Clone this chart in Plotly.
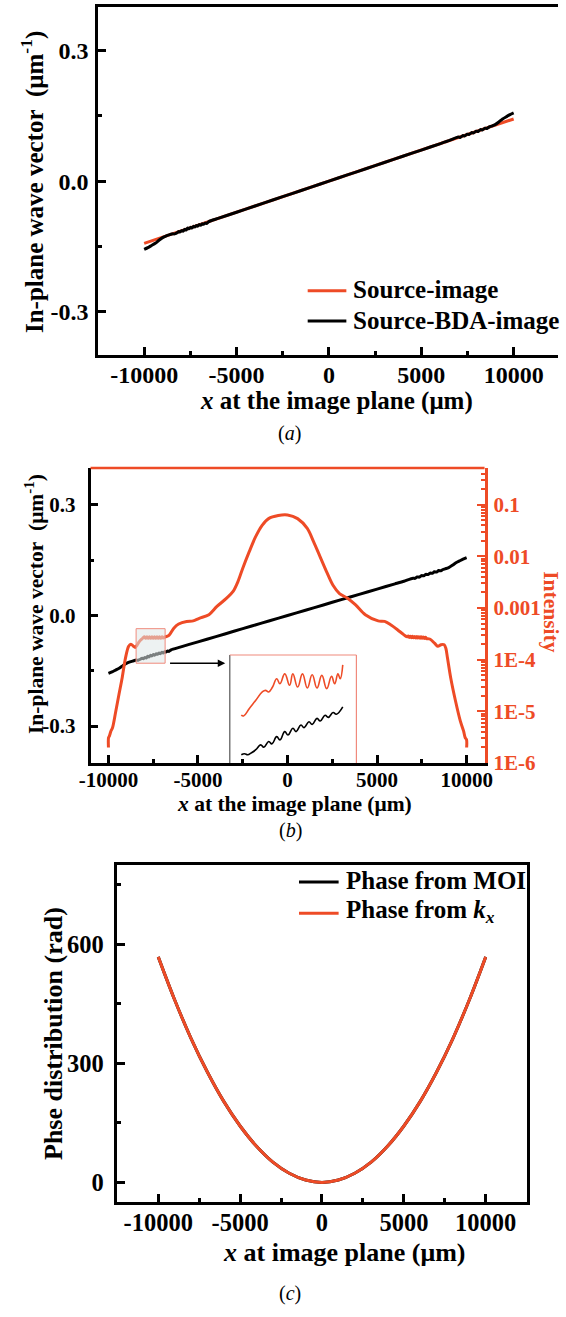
import numpy as np
import plotly.graph_objects as go

W, H = 566, 1317
RED = '#EE4B26'
SALMON = '#F08A7C'
FONT = 'Liberation Serif'

# ---------------- data ----------------
# (a) in-plane wave vector (um^-1) along the image plane
src_x = [-10000, 0, 10000]
src_k = [-0.143, 0.0, 0.143]

bda_x = [-10000, -9800, -9600, -9400, -9200, -9000, -8800, -8650,
         -8500, -8437, -8373, -8310, -8214, -8119, -8056, -7960, -7897, -7802,
         -7738, -7643, -7579, -7484, -7421, -7325, -7262, -7167, -7103, -7008,
         -6944, -6849, -6786, -6690, -6627, -6500,
         -6000, -5000, -4000, -3000, -2000, -1000, 0, 1000, 2000, 3000, 4000, 5000,
         6000, 6500, 7000, 7120, 7240, 7360, 7480, 7600, 7720, 7840, 7960, 8080,
         8200, 8320, 8440, 8560, 8680, 8800, 9000, 9200, 9400, 9600, 9800, 10000]
bda_k = [-0.157, -0.153, -0.148, -0.143, -0.136, -0.130, -0.126, -0.1237,
         -0.1216, -0.1210, -0.1216, -0.1206, -0.1186, -0.1157, -0.1171, -0.1137, -0.1151, -0.1108,
         -0.1127, -0.1078, -0.1098, -0.1058, -0.1078, -0.1039, -0.1054, -0.1019, -0.1035, -0.0999,
         -0.1015, -0.0980, -0.0993, -0.0964, -0.0974, -0.0930,
         -0.0858, -0.0715, -0.0572, -0.0429, -0.0286, -0.0143, 0.0, 0.0143, 0.0286, 0.0429,
         0.0572, 0.0715, 0.0858, 0.0930, 0.1013, 0.1006, 0.1047, 0.1040, 0.1081, 0.1075,
         0.1116, 0.1109, 0.1150, 0.1143, 0.1185, 0.1178, 0.1219, 0.1212, 0.1247, 0.1265,
         0.1300, 0.1360, 0.1430, 0.1480, 0.1530, 0.1570]

# (b) intensity, stored as log10(I)
int_x = [-10000, -9995, -9950, -9860, -9773, -9590, -9411, -9233, -9050, -8872,
         -8747, -8601, -8510, -8400, -8300, -8200, -8100, -8060, -7990, -7920,
         -7850, -7780, -7710, -7640, -7570, -7500, -7430, -7360, -7290, -7220,
         -7150, -7080, -7010, -6940, -6870, -6750, -6620, -6350, -6080, -5632,
         -5270, -4932, -4390, -3942, -3402, -3040, -2770, -2500, -2138, -1782,
         -1420, -1058, -518, 0, 562, 1102, 1458, 1820, 2182, 2538,
         2900, 3348, 3801, 4341, 5059, 5421, 5778, 6139, 6501, 6680,
         6740, 6800, 6860, 6920, 6980, 7040, 7100, 7160, 7220, 7280,
         7340, 7400, 7460, 7520, 7580, 7640, 7700, 7760, 7937, 8207,
         8391, 8569, 8747, 8839, 8931, 9109, 9379, 9649, 9827, 9919,
         9995, 10000]
int_logI = [-5.70, -5.51, -5.48, -5.38, -5.32, -5.00, -4.67, -4.35, -3.97, -3.74,
            -3.70, -3.74, -3.763, -3.72, -3.66, -3.62, -3.59, -3.575, -3.555, -3.585,
            -3.555, -3.585, -3.555, -3.585, -3.555, -3.585, -3.555, -3.585, -3.555, -3.585,
            -3.555, -3.585, -3.555, -3.580, -3.565, -3.55, -3.53, -3.39, -3.31, -3.26,
            -3.25, -3.20, -3.13, -2.97, -2.81, -2.68, -2.49, -2.23, -1.91, -1.62,
            -1.40, -1.27, -1.21, -1.20, -1.27, -1.46, -1.72, -2.01, -2.30, -2.56,
            -2.72, -2.81, -2.94, -3.13, -3.25, -3.26, -3.33, -3.42, -3.52, -3.557,
            -3.540, -3.570, -3.545, -3.575, -3.548, -3.578, -3.550, -3.580, -3.552, -3.582,
            -3.555, -3.585, -3.558, -3.587, -3.560, -3.590, -3.565, -3.592, -3.60, -3.68,
            -3.74, -3.71, -3.71, -3.78, -3.97, -4.35, -4.80, -5.19, -5.38, -5.51,
            -5.55, -5.70]

# magnified view of the left plateau (inset of panel b)
det_x_k = [-8500, -8437, -8373, -8310, -8214, -8119, -8056, -7960, -7897, -7802,
           -7738, -7643, -7579, -7484, -7421, -7325, -7262, -7167, -7103, -7008,
           -6944, -6849, -6786, -6690, -6627, -6500]
det_k = [-0.1216, -0.1210, -0.1216, -0.1206, -0.1186, -0.1157, -0.1171, -0.1137, -0.1151, -0.1108,
         -0.1127, -0.1078, -0.1098, -0.1058, -0.1078, -0.1039, -0.1054, -0.1019, -0.1035, -0.0999,
         -0.1015, -0.0980, -0.0993, -0.0964, -0.0974, -0.0930]
det_x_i = [-8500, -8456, -8341, -8214, -8087, -8024, -7960, -7884, -7802, -7738,
           -7643, -7548, -7484, -7389, -7294, -7198, -7103, -7008, -6913, -6817,
           -6722, -6659, -6595, -6551, -6500]
det_logI = [-3.767, -3.773, -3.725, -3.673, -3.620, -3.610, -3.620, -3.589, -3.536, -3.568,
            -3.505, -3.578, -3.505, -3.589, -3.505, -3.595, -3.511, -3.595, -3.515, -3.599,
            -3.521, -3.568, -3.505, -3.536, -3.448]

# (c) phase distribution (rad)
phase_x = [-10000, -9000, -8000, -7000, -6000, -5000, -4000, -3000, -2000, -1000, 0,
           1000, 2000, 3000, 4000, 5000, 6000, 7000, 8000, 9000, 10000]
phase_moi = [568, 460, 363, 278, 204, 142, 91, 51, 23, 6, 0,
             6, 23, 51, 91, 142, 204, 278, 363, 460, 568]
phase_kx = [568, 460, 363, 278, 204, 142, 91, 51, 23, 6, 0,
            6, 23, 51, 91, 142, 204, 278, 363, 460, 568]

x_ticks = [-10000, -5000, 0, 5000, 10000]
x_ticktext = ['-10000', '-5000', '0', '5000', '10000']
k_ticks = [-0.3, 0.0, 0.3]
k_ticktext = ['-0.3', '0.0', '0.3']
i_ticks = [1e-6, 1e-5, 1e-4, 1e-3, 1e-2, 1e-1]
i_ticktext = ['1E-6', '1E-5', '1E-4', '0.001', '0.01', '0.1']
ph_ticks = [0, 300, 600]
ph_ticktext = ['0', '300', '600']

int_I = list(10 ** np.array(int_logI))
det_I = list(10 ** np.array(det_logI))


# ---------------- helpers ----------------
def px(x):
    return x / W


def py(y):
    return 1 - y / H


def bold(size, color='black'):
    return dict(family=FONT, size=size, color=color, weight='bold')


def minor_ticks(vals, color='black', width=2.5):
    return dict(tickvals=vals, ticks='inside', ticklen=4, tickwidth=width, tickcolor=color)


def lin_axis(**kw):
    base = dict(showline=True, linecolor='black', linewidth=2.5, ticks='inside',
                ticklen=8, tickwidth=2.5, tickcolor='black', showgrid=False,
                zeroline=False, mirror=False)
    base.update(kw)
    return base


fig = go.Figure()

# panel (a)
fig.add_trace(go.Scatter(x=src_x, y=src_k, mode='lines', line=dict(color=RED, width=3),
                         xaxis='x', yaxis='y', name='Source-image'))
fig.add_trace(go.Scatter(x=bda_x, y=bda_k, mode='lines',
                         line=dict(color='black', width=3, shape='spline', smoothing=0.6),
                         xaxis='x', yaxis='y', name='Source-BDA-image'))

# panel (b)
fig.add_trace(go.Scatter(x=bda_x, y=bda_k, mode='lines',
                         line=dict(color='black', width=3, shape='spline', smoothing=0.6),
                         xaxis='x2', yaxis='y2', name='k'))
fig.add_trace(go.Scatter(x=int_x, y=int_I, mode='lines',
                         line=dict(color=RED, width=3, shape='spline', smoothing=0.9),
                         xaxis='x2', yaxis='y3', name='Intensity'))

# inset of panel (b)
fig.add_trace(go.Scatter(x=det_x_i, y=det_I, mode='lines',
                         line=dict(color=RED, width=1.6, shape='spline', smoothing=1.3),
                         xaxis='x4', yaxis='y6', name='I detail'))
fig.add_trace(go.Scatter(x=det_x_k, y=det_k, mode='lines',
                         line=dict(color='black', width=1.6, shape='spline', smoothing=1.3),
                         xaxis='x4', yaxis='y5', name='k detail'))

# panel (c)
fig.add_trace(go.Scatter(x=phase_x, y=phase_moi, mode='lines', line=dict(color='black', width=3, shape='spline'),
                         xaxis='x3', yaxis='y4', name='Phase from MOI'))
fig.add_trace(go.Scatter(x=phase_x, y=phase_kx, mode='lines', line=dict(color=RED, width=3, shape='spline'),
                         xaxis='x3', yaxis='y4', name='Phase from kx'))

fig.update_layout(
    width=W, height=H, margin=dict(l=0, r=0, t=0, b=0),
    paper_bgcolor='white', plot_bgcolor='rgba(0,0,0,0)', showlegend=False,
    # (a)
    xaxis=lin_axis(domain=[px(90), 1.0], range=[-12500, 12400], anchor='y', mirror=True,
                   tickvals=x_ticks, ticktext=x_ticktext, tickfont=bold(24), ticklabelstandoff=-4,
                   minor=minor_ticks([-7500, -2500, 2500, 7500])),
    yaxis=lin_axis(domain=[py(358.3), py(7.3)], range=[-0.4, 0.4], anchor='x',
                   tickvals=k_ticks, ticktext=k_ticktext, tickfont=bold(24), ticklabelstandoff=2,
                   minor=minor_ticks([-0.15, 0.15])),
    # (b)
    xaxis2=lin_axis(domain=[px(82.3), px(490)], range=[-11000, 11000], anchor='y2',
                    tickvals=x_ticks, ticktext=x_ticktext, tickfont=bold(21), ticklabelstandoff=-4,
                    minor=minor_ticks([-7500, -2500, 2500, 7500])),
    yaxis2=lin_axis(domain=[py(770), py(472.3)], range=[-0.4, 0.4], anchor='x2',
                    tickvals=k_ticks, ticktext=k_ticktext, tickfont=bold(21), ticklabelstandoff=8,
                    minor=minor_ticks([-0.15, 0.15])),
    yaxis3=dict(type='log', range=[-6, -0.29], overlaying='y2', anchor='x2', side='right',
                showline=True, linecolor=RED, linewidth=2.5, ticks='inside', ticklen=8, tickwidth=2,
                tickcolor=RED, showgrid=False, zeroline=False,
                tickvals=i_ticks, ticktext=i_ticktext, tickfont=bold(21, RED), ticklabelstandoff=2,
                minor=minor_ticks([m * 10.0 ** e for e in range(-6, 0) for m in range(2, 10)], RED, 1.5)),
    # (c)
    xaxis3=lin_axis(domain=[px(110), px(533.6)], range=[-12500, 12500], anchor='y4', mirror=True,
                    tickvals=x_ticks, ticktext=x_ticktext, tickfont=bold(24.5), ticklabelstandoff=-3,
                    minor=minor_ticks([-7500, -2500, 2500, 7500])),
    yaxis4=lin_axis(domain=[py(1213.3), py(872.7)], range=[-50, 800], anchor='x3', mirror=True,
                    tickvals=ph_ticks, ticktext=ph_ticktext, tickfont=bold(24.5), ticklabelstandoff=6,
                    minor=minor_ticks([150, 450, 750])),
    # inset
    xaxis4=dict(domain=[px(226.4), px(357.4)], range=[-8727, -6231], anchor='y5', visible=False),
    yaxis5=dict(domain=[py(770), py(661)], range=[-0.1265, -0.0621], anchor='x4', visible=False),
    yaxis6=dict(type='log', range=[-4.072, -3.385], overlaying='y5', anchor='x4', visible=False),
)

shapes = []
# red top border of panel (b)
shapes.append(dict(type='line', xref='paper', yref='paper', x0=px(82.3), x1=px(490), y0=py(472.3), y1=py(472.3),
                   line=dict(color=RED, width=2.5)))
# highlighted window in panel (b)
shapes.append(dict(type='rect', xref='x2', yref='y2', x0=-8456, x1=-6836, y0=-0.1294, y1=-0.0358,
                   fillcolor='rgba(222,232,232,0.55)', line=dict(color=SALMON, width=1), layer='above'))
# inset frame
shapes.append(dict(type='line', xref='paper', yref='paper', x0=px(226.4), x1=px(226.4), y0=py(770), y1=py(661),
                   line=dict(color='#555555', width=1.2)))
shapes.append(dict(type='line', xref='paper', yref='paper', x0=px(226.4), x1=px(357.4), y0=py(661), y1=py(661),
                   line=dict(color=SALMON, width=1.2)))
shapes.append(dict(type='line', xref='paper', yref='paper', x0=px(357.4), x1=px(357.4), y0=py(661), y1=py(770),
                   line=dict(color=SALMON, width=1.2)))
# legend samples
for (x0, x1, y, c) in [(307, 347, 293.3, RED), (307, 347, 324, 'black'),
                       (298, 339, 890, 'black'), (298, 339, 921.7, RED)]:
    shapes.append(dict(type='line', xref='paper', yref='paper', x0=px(x0), x1=px(x1), y0=py(y), y1=py(y),
                       line=dict(color=c, width=3)))
fig.update_layout(shapes=shapes)

ann = []


def text(x, y, s, size, angle=0, color='black', xanchor='center', weight='bold'):
    ann.append(dict(x=px(x), y=py(y), xref='paper', yref='paper', text=s, showarrow=False,
                    textangle=angle, xanchor=xanchor, yanchor='middle',
                    font=dict(family=FONT, size=size, color=color, weight=weight)))


# panel (a)
text(23, 183.5, 'In-plane wave vector\u00a0\u00a0(\u03bcm<sup>-1</sup>)', 25, angle=-90)
text(336.7, 405, '<i>x</i> at the image plane (\u03bcm)', 25)
text(288, 437, '(<i>a</i>)', 20, weight='normal')
text(352, 292.3, 'Source-image', 25, xanchor='left')
text(352, 323.3, 'Source-BDA-image', 25, xanchor='left')
# panel (b)
text(24.4, 610, 'In-plane wave vector\u00a0\u00a0(\u03bcm<sup>-1</sup>)', 21.5, angle=-90)
text(558.4, 617.5, 'Intensity', 21.5, angle=90, color=RED)
text(293, 811, '<i>x</i> at the image plane (\u03bcm)', 21.5)
text(289, 838, '(<i>b</i>)', 20, weight='normal')
# panel (c)
text(44.7, 1043.3, 'Phse distribution (rad)', 26, angle=-90)
text(345, 1264.5, '<i>x</i> at image plane (\u03bcm)', 26)
text(289, 1305, '(<i>c</i>)', 20, weight='normal')
text(344.8, 888.3, 'Phase from MOI', 25, xanchor='left')
text(344.8, 919.9, 'Phase from <i>k<sub>x</sub></i>', 25, xanchor='left')

# arrow pointing from the highlighted window to the inset
ann.append(dict(x=px(221.7), y=py(669.3), xref='paper', yref='paper', ax=-56.7, ay=0,
                text='', showarrow=True, arrowhead=2, arrowsize=1, arrowwidth=1.5, arrowcolor='black'))

fig.update_layout(annotations=ann)

fig.write_html('out.html')
